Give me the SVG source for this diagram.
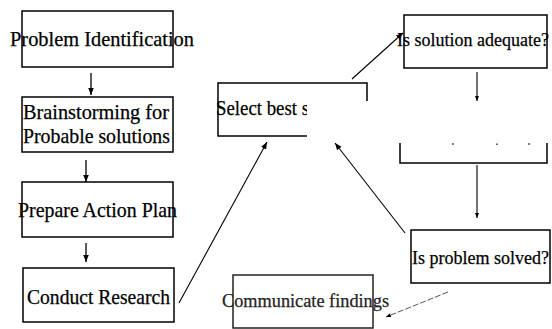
<svg xmlns="http://www.w3.org/2000/svg" width="552" height="329" viewBox="0 0 552 329">
<defs>
<style>
.box{fill:none;stroke:#000;stroke-width:1.5}
.t{font-family:"Liberation Serif","Times New Roman",serif;fill:#000;stroke:#000;stroke-width:0.25}
.tl{font-size:21px}
.tr{font-size:19.5px}
.c{stroke:#000;stroke-width:1.3;fill:none}
.cs{stroke:#000;stroke-width:1.1;fill:none}
</style>
<marker id="ah" viewBox="0 0 10 10" refX="10" refY="5" markerWidth="7" markerHeight="7" orient="auto" markerUnits="userSpaceOnUse"><path d="M0,1 L10,5 L0,9 Z" fill="#000"/></marker>
<marker id="ahs" viewBox="0 0 10 10" refX="10" refY="5" markerWidth="5" markerHeight="5" orient="auto" markerUnits="userSpaceOnUse"><path d="M0,1 L10,5 L0,9 Z" fill="#000"/></marker>
</defs>
<rect width="552" height="329" fill="#fff"/>
<g id="connectors">
<line class="c" x1="91" y1="73" x2="91" y2="95" marker-end="url(#ah)"/>
<line class="c" x1="86" y1="160" x2="86" y2="182" marker-end="url(#ah)"/>
<line class="c" x1="86" y1="243" x2="86" y2="262" marker-end="url(#ah)"/>
<line class="cs" x1="179" y1="303" x2="267" y2="142" marker-end="url(#ah)"/>
<line class="cs" x1="352" y1="79" x2="403" y2="33" marker-end="url(#ah)"/>
<line class="cs" x1="477" y1="72" x2="477" y2="101" marker-end="url(#ahs)"/>
<line class="cs" x1="477" y1="165" x2="477" y2="218" marker-end="url(#ahs)"/>
<line class="cs" x1="405" y1="233" x2="335" y2="143" marker-end="url(#ah)"/>
<line x1="448" y1="292" x2="386" y2="317" stroke="#555" stroke-width="1" stroke-dasharray="6,2" marker-end="url(#ahs)"/>
</g>
<g id="problem-identification">
<rect class="box" x="22" y="11" width="151" height="56"/>
<text class="t tl" x="10" y="46" textLength="184" lengthAdjust="spacingAndGlyphs">Problem Identification</text>
</g>
<g id="brainstorming">
<rect class="box" x="22" y="97" width="151" height="55"/>
<text class="t tl" x="23" y="119" textLength="146" lengthAdjust="spacingAndGlyphs">Brainstorming for</text>
<text class="t tl" x="23" y="143" textLength="147" lengthAdjust="spacingAndGlyphs">Probable solutions</text>
</g>
<g id="prepare-action-plan">
<rect class="box" x="22" y="182" width="151" height="55"/>
<text class="t tl" x="18" y="217" textLength="159" lengthAdjust="spacingAndGlyphs">Prepare Action Plan</text>
</g>
<g id="conduct-research">
<rect class="box" x="23" y="268" width="151" height="54"/>
<text class="t tl" x="27" y="304" textLength="143" lengthAdjust="spacingAndGlyphs">Conduct Research</text>
</g>
<g id="select-best">
<rect class="box" x="218" y="83" width="149" height="53"/>
<text class="t tl" x="216" y="115" textLength="93" lengthAdjust="spacingAndGlyphs">Select best s</text>
<rect x="307" y="101" width="64" height="40" fill="#fff"/>
</g>
<g id="solution-adequate">
<rect class="box" x="404" y="15" width="143" height="53"/>
<text class="t tr" x="397" y="46" textLength="152" lengthAdjust="spacingAndGlyphs">Is solution adequate?</text>
</g>
<g id="middle-box">
<path class="box" d="M400,143 V163 H547 V143"/>
<path d="M452,144 h2 M497,143.5 v1.5 M528,144 h2" stroke="#000" stroke-width="1.2"/>
</g>
<g id="problem-solved">
<rect class="box" x="411" y="230" width="139" height="53"/>
<text class="t tr" x="412" y="264" textLength="137" lengthAdjust="spacingAndGlyphs">Is problem solved?</text>
</g>
<g id="communicate-findings">
<rect class="box" x="233" y="275" width="140" height="53" style="stroke:#222"/>
<text class="t tr" x="222" y="307" textLength="167" lengthAdjust="spacingAndGlyphs" style="fill:#222;stroke:#222">Communicate findings</text>
</g>
</svg>
